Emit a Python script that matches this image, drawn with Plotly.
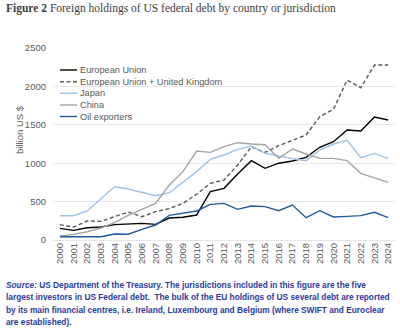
import plotly.graph_objects as go

years = [str(y) for y in range(2000, 2025)]

eu = [152, 126, 160, 169, 200, 213, 217, 204, 286, 297, 325, 629, 673, 859, 1033, 933, 1000, 1029, 1076, 1207, 1280, 1432, 1419, 1601, 1562]
eu_uk = [200, 169, 247, 243, 304, 364, 304, 369, 408, 478, 595, 738, 781, 977, 1215, 1140, 1228, 1293, 1367, 1606, 1701, 2083, 1983, 2278, 2278]
japan = [316, 316, 378, 530, 694, 664, 620, 577, 616, 759, 890, 1050, 1107, 1181, 1224, 1129, 1090, 1059, 1033, 1172, 1250, 1298, 1072, 1128, 1059]
china = [52, 74, 108, 156, 226, 321, 399, 477, 716, 890, 1159, 1141, 1215, 1267, 1250, 1241, 1063, 1185, 1120, 1063, 1063, 1033, 868, 812, 751]
oil = [43, 43, 43, 43, 78, 75, 139, 195, 321, 347, 378, 464, 477, 399, 443, 434, 382, 456, 291, 382, 300, 308, 317, 360, 291]

series_names = ["European Union", "European Union + United Kingdom", "Japan", "China", "Oil exporters"]
series_values = [eu, eu_uk, japan, china, oil]
series_colors = ["#000000", "#595959", "#9DC3E6", "#A5A5A5", "#1F5AA0"]
series_dash = ["solid", "4px,2.5px", "solid", "solid", "solid"]
y_ticks = [0, 500, 1000, 1500, 2000, 2500]

title_text = "<b>Figure 2</b> Foreign holdings of US federal debt by country or jurisdiction"
y_title = "billion US $"
foot_lines = [
    "<i>Source:</i> US Department of the Treasury. The jurisdictions included in this figure are the five",
    "largest investors in US Federal debt.  The bulk of the EU holdings of US several debt are reported",
    "by its main financial centres, i.e. Ireland, Luxembourg and Belgium (where SWIFT and Euroclear",
    "are established).",
]

W, H = 400, 328
L, R, T, B = 53, 5, 48, 88
PW, PH = W - L - R, H - T - B

def px(x):
    return (x - L) / PW

def py(y):
    return (H - B - y) / PH

fig = go.Figure()
for name, vals, col, dash in zip(series_names, series_values, series_colors, series_dash):
    fig.add_trace(go.Scatter(x=years, y=vals, mode="lines", name=name,
                             line=dict(color=col, width=1.4, dash=dash),
                             showlegend=False))

shapes = []
annotations = []
leg_y = [70, 81.7, 93.3, 105, 116.5]
for name, col, dash, yy in zip(series_names, series_colors, series_dash, leg_y):
    shapes.append(dict(type="line", xref="paper", yref="paper", x0=px(60), x1=px(77),
                       y0=py(yy), y1=py(yy), line=dict(color=col, width=1.4, dash=dash)))
    annotations.append(dict(text=name, xref="paper", yref="paper", x=px(78), y=py(yy),
                            xanchor="left", yanchor="middle", showarrow=False,
                            font=dict(family="Liberation Sans, Arial", size=9.2, color="#595959")))

annotations.append(dict(text=title_text, xref="paper", yref="paper", x=px(4), y=py(8),
                        xanchor="left", yanchor="middle", showarrow=False,
                        font=dict(family="Liberation Serif, serif", size=11.5, color="#404040")))
annotations.append(dict(text=y_title, xref="paper", yref="paper", x=px(19), y=py(130),
                        xanchor="center", yanchor="middle", showarrow=False, textangle=-90,
                        font=dict(family="Liberation Sans, Arial", size=9.5, color="#595959")))
for i, line in enumerate(foot_lines):
    annotations.append(dict(text=line, xref="paper", yref="paper", x=px(4), y=py(285 + i * 12.4),
                            xanchor="left", yanchor="middle", showarrow=False,
                            font=dict(family="Liberation Sans, Arial", size=8.3, color="#2B3A9E", weight="bold")))

fig.update_layout(
    width=W, height=H,
    margin=dict(l=L, r=R, t=T, b=B),
    paper_bgcolor="white", plot_bgcolor="white",
    shapes=shapes, annotations=annotations,
    xaxis=dict(type="category", tickangle=-90, showgrid=False, showline=False,
               ticks="", tickfont=dict(family="Liberation Sans, Arial", size=9.5, color="#595959"),
               range=[-0.5, 24.5]),
    yaxis=dict(range=[0, 2500], tickvals=y_ticks, showgrid=True, gridcolor="#E6E6E6", gridwidth=1,
               zeroline=True, zerolinecolor="#E6E6E6", zerolinewidth=1, showline=False,
               ticks="", ticklabelstandoff=6,
               tickfont=dict(family="Liberation Sans, Arial", size=9.5, color="#595959")),
)

fig.write_html("out.html")
